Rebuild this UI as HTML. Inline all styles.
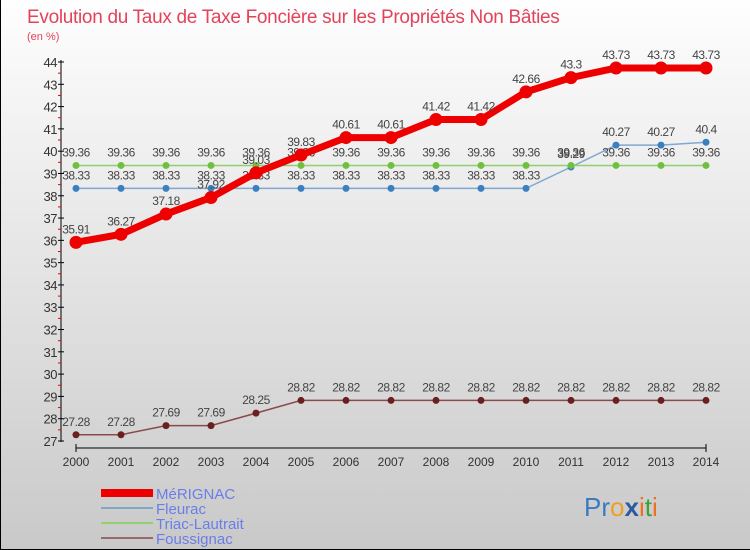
<!DOCTYPE html>
<html><head><meta charset="utf-8"><style>
body{margin:0}
#c{width:750px;height:550px;position:relative;overflow:hidden;font-family:"Liberation Sans",sans-serif;background:linear-gradient(#fefefe,#c9c9c9);box-sizing:border-box;border:1px solid #000;border-top:none;border-right:none}
</style></head><body>
<div id="c">
<svg id="s" width="750" height="550" xmlns="http://www.w3.org/2000/svg" font-family="Liberation Sans,sans-serif">
<text x="26" y="23" font-size="19" fill="#e2435b" letter-spacing="-0.3">Evolution du Taux de Taxe Foncière sur les Propriétés Non Bâties</text>
<text x="26" y="40" font-size="11" fill="#e2435b">(en %)</text>
<g id="axes"></g><g id="series"></g>
<g>
<rect x="100" y="489" width="52" height="8" fill="#ee0000"/>
<text x="155" y="499" font-size="15" fill="#6a7ee8">MéRIGNAC</text>
<rect x="100" y="507" width="52" height="2" fill="#7fa8c8"/>
<text x="155" y="514" font-size="15" fill="#6a7ee8">Fleurac</text>
<rect x="100" y="522" width="52" height="2" fill="#90d070"/>
<text x="155" y="529" font-size="15" fill="#6a7ee8">Triac-Lautrait</text>
<rect x="100" y="537" width="52" height="2" fill="#9a6a6a"/>
<text x="155" y="544" font-size="15" fill="#6a7ee8">Foussignac</text>
</g>
<g font-size="26" font-family="Liberation Sans,sans-serif">
<text x="583" y="516"><tspan fill="#3a7ac0">Pr</tspan><tspan fill="#f0a020">o</tspan><tspan fill="#2a5aa0" font-weight="bold">x</tspan><tspan fill="#f07020">i</tspan><tspan fill="#40a040">t</tspan><tspan fill="#f07020">i</tspan></text>
</g>
</svg>
</div>
<script>
const years=[2000,2001,2002,2003,2004,2005,2006,2007,2008,2009,2010,2011,2012,2013,2014];
const merignac=[35.91,36.27,37.18,37.92,39.03,39.83,40.61,40.61,41.42,41.42,42.66,43.3,43.73,43.73,43.73];
const fleurac=[38.33,38.33,38.33,38.33,38.33,38.33,38.33,38.33,38.33,38.33,38.33,39.29,40.27,40.27,40.4];
const triac=[39.36,39.36,39.36,39.36,39.36,39.36,39.36,39.36,39.36,39.36,39.36,39.36,39.36,39.36,39.36];
const foussignac=[27.28,27.28,27.69,27.69,28.25,28.82,28.82,28.82,28.82,28.82,28.82,28.82,28.82,28.82,28.82];
const yTicks=[27,28,29,30,31,32,33,34,35,36,37,38,39,40,41,42,43,44];
const NS="http://www.w3.org/2000/svg";
const X=i=>75+i*45, Y=v=>441-(v-27)*(379/17);
function mk(t,a,p){const e=document.createElementNS(NS,t);for(const k in a)e.setAttribute(k,a[k]);p.appendChild(e);return e;}
const ax=document.getElementById('axes');
mk('line',{x1:60,y1:60,x2:60,y2:442,stroke:'#000'},ax);
yTicks.forEach(v=>{const y=Y(v);
 const t=mk('line',{x1:57,y1:y,x2:63,y2:y,stroke:'#000'},ax);
 
 const l=mk('text',{x:56,y:y+5,'font-size':13,fill:'#333','text-anchor':'end','letter-spacing':'-0.5'},ax);l.textContent=v;
 
 if(v<44){mk('line',{x1:57,y1:Y(v+0.5),x2:60,y2:Y(v+0.5),stroke:'#e00'},ax);}
});
mk('line',{x1:75,y1:448,x2:705,y2:448,stroke:'#000'},ax);
mk('line',{x1:75,y1:444,x2:75,y2:452,stroke:'#000'},ax);
mk('line',{x1:705,y1:444,x2:705,y2:452,stroke:'#000'},ax);
years.forEach((yr,i)=>{const l=mk('text',{x:X(i),y:466,'font-size':12,fill:'#333','text-anchor':'middle'},ax);l.textContent=yr;
 });
const sg=document.getElementById('series');
function series(name,vals,color,w,r,dot){
 const g=mk('g',{},sg);
 
 const p=mk('polyline',{points:vals.map((v,i)=>X(i)+','+Y(v)).join(' '),fill:'none',stroke:color,'stroke-width':w},g);
 
 vals.forEach((v,i)=>{const c=mk('circle',{cx:X(i),cy:Y(v),r:r,fill:dot},g);
  
  const t=mk('text',{x:X(i),y:Y(v)-9,'font-size':12,fill:'#444','text-anchor':'middle','letter-spacing':'-0.5'},g);t.textContent=v;
  });
}
series('foussignac',foussignac,'#8a4a4a',1.5,3.5,'#6a2020');
series('fleurac',fleurac,'#7fa8d0',1.5,3.5,'#3a80c0');
series('triac',triac,'#90d070',1.5,3.5,'#70c040');
series('merignac',merignac,'#ee0000',7,6.5,'#ee0000');
</script>
</body></html>
